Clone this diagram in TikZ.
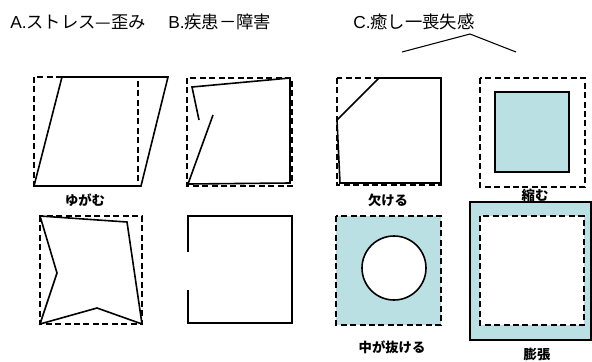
\documentclass[tikz,border=0pt]{standalone}
\usepackage{fontspec}
\setmainfont{Liberation Sans}
\newfontfamily\cjk{Noto Sans CJK JP}
\definecolor{lightfill}{RGB}{187,224,227}
\tikzset{
  px/.style={x=0.75pt,y=-0.75pt},
  solidline/.style={draw=black,line width=1.2pt,line join=miter},
  dashline/.style={draw=black,line width=1.2pt,dash pattern=on 4.5pt off 2.6pt},
  title/.style={font=\fontsize{13}{15}\selectfont,inner sep=0pt,anchor=west},
  caption/.style={font=\cjk\bfseries\fontsize{10}{12}\selectfont,inner sep=0pt},
}
\begin{document}
\begin{tikzpicture}[px]
\useasboundingbox (0,0) rectangle (592,361);
% titles
\node[title] (tA) at (10,22) {A.{\cjk ストレス—歪み}};
\node[title] (tB) at (168,22) {B.{\cjk 疾患－障害}};
\node[title] (tC) at (353,22) {C.{\cjk 癒し一喪失感}};
\coordinate (c1) at (402,52);
\coordinate (c2) at (470,34);
\coordinate (c3) at (516,52);
\draw[line width=0.8pt] (c1) -- (c2) -- (c3);

% A1 ゆがむ
\draw[dashline] (34,77) rectangle (138,186);
\draw[solidline] (62,77) -- (168,77) -- (141,186) -- (34,186) -- cycle;
\node[caption] (lA1) at (85,200) {ゆがむ};

% A2
\draw[dashline] (40,216) rectangle (142,324);
\draw[solidline] (40,216) -- (127,222) -- (142,324) -- (97,308) -- (40,324) -- (57,273) -- cycle;

% B1
\draw[dashline] (187,78) rectangle (292,186);
\draw[solidline] (213,115) -- (188,184) -- (290,183) -- (290,78) -- (192,87) -- (199,120);

% B2
\draw[solidline] (188,252) -- (188,216) -- (292,216) -- (292,323) -- (188,323) -- (188,290);

% C1 欠ける
\draw[dashline] (337,78) rectangle (441,185);
\draw[solidline] (379,78) -- (441,78) -- (441,183) -- (340,183) -- (337,120) -- cycle;
\node[caption] (lC1) at (388,200) {欠ける};

% C2 縮む
\draw[dashline] (480,78) rectangle (585,187);
\draw[solidline,fill=lightfill] (495,92) rectangle (569,172);
\node[caption] (lC2) at (535,195) {縮む};

% C3 中が抜ける
\fill[lightfill] (336,216) rectangle (441,325);
\draw[dashline] (336,216) rectangle (441,325);
\draw[solidline,fill=white] (394,268) circle (24pt);
\node[caption] (lC3) at (392,347) {中が抜ける};

% C4 膨張
\draw[solidline,fill=lightfill] (470,202) rectangle (591,340);
\fill[white] (480,216) rectangle (584,325);
\draw[dashline] (480,216) rectangle (584,325);
\node[caption] (lC4) at (537,354) {膨張};
\end{tikzpicture}
\end{document}
